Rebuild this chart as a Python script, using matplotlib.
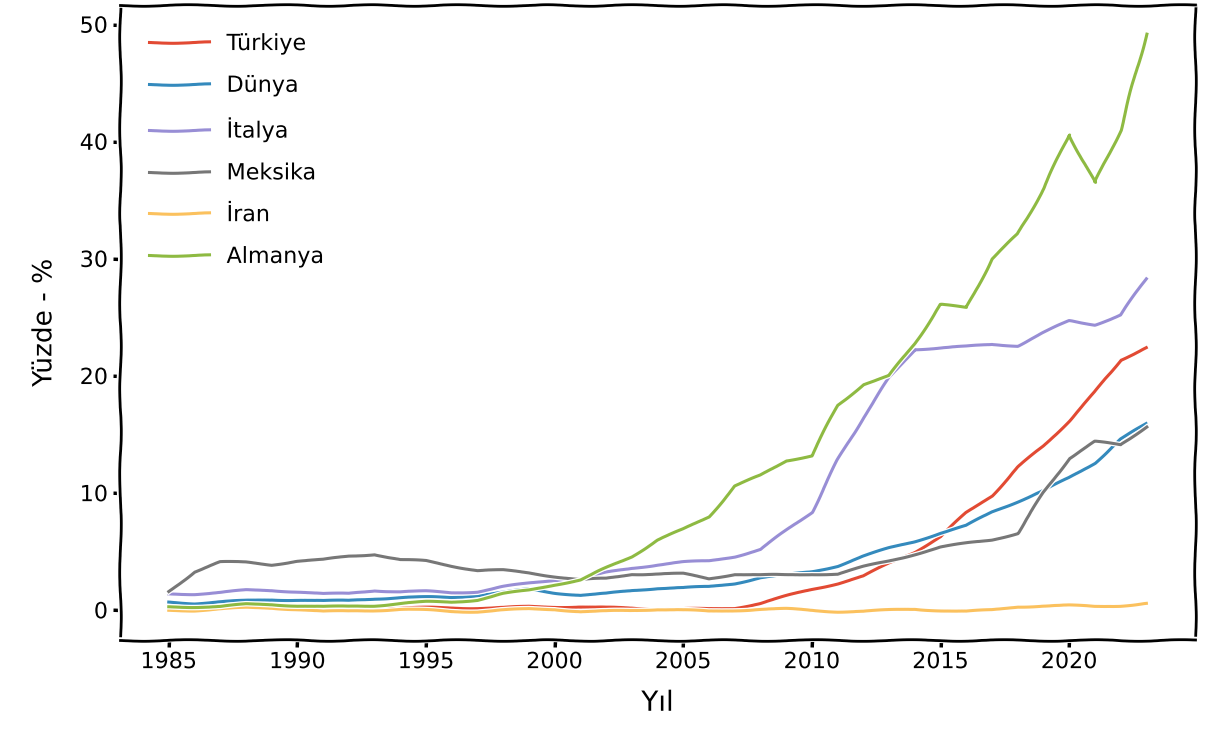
import matplotlib
matplotlib.use("Agg")
import matplotlib.pyplot as plt

years = list(range(1985, 2024))

turkiye = [0.1, 0.1, 0.2, 0.2, 0.3, 0.3, 0.3, 0.2, 0.2, 0.2, 0.2, 0.2, 0.2, 0.2, 0.3,
           0.3, 0.3, 0.2, 0.2, 0.1, 0.1, 0.1, 0.2, 0.6, 1.2, 1.8, 2.3, 2.9, 4.0, 5.0,
           6.3, 8.3, 9.8, 12.2, 14.0, 16.2, 18.6, 21.4, 22.4]
dunya = [0.7, 0.6, 0.7, 0.8, 0.9, 0.9, 0.8, 0.8, 1.0, 1.1, 1.1, 1.1, 1.3, 1.5, 1.8,
         1.5, 1.3, 1.4, 1.7, 1.9, 1.9, 2.0, 2.3, 2.8, 3.0, 3.3, 3.8, 4.6, 5.3, 5.9,
         6.6, 7.2, 8.4, 9.3, 10.2, 11.3, 12.6, 14.6, 15.9]
italya = [1.4, 1.4, 1.5, 1.7, 1.7, 1.6, 1.4, 1.4, 1.7, 1.6, 1.6, 1.5, 1.6, 2.0, 2.3,
          2.6, 2.7, 3.2, 3.6, 3.9, 4.1, 4.2, 4.6, 5.2, 6.8, 8.4, 12.8, 16.5, 19.8, 22.3,
          22.4, 22.5, 22.7, 22.6, 23.7, 24.7, 24.4, 25.2, 28.3]
meksika = [1.6, 3.3, 4.1, 4.1, 3.9, 4.2, 4.3, 4.6, 4.8, 4.3, 4.2, 3.8, 3.4, 3.4, 3.2,
           2.9, 2.6, 2.7, 3.1, 3.1, 3.1, 2.7, 3.1, 3.0, 3.0, 3.1, 3.1, 3.7, 4.2, 4.8,
           5.4, 5.7, 6.0, 6.6, 10.0, 13.0, 14.4, 14.1, 15.7]
iran = [0.0, 0.0, 0.1, 0.2, 0.2, 0.1, -0.1, -0.1, 0.0, 0.1, 0.0, -0.1, -0.1, 0.0, 0.1,
        0.1, -0.1, -0.1, 0.0, 0.1, 0.0, -0.1, 0.0, 0.1, 0.1, 0.0, -0.1, -0.1, 0.0, 0.1,
        0.0, -0.1, 0.0, 0.3, 0.4, 0.4, 0.3, 0.4, 0.6]
almanya = [0.3, 0.3, 0.3, 0.5, 0.5, 0.4, 0.3, 0.3, 0.4, 0.6, 0.7, 0.7, 0.9, 1.4, 1.7,
           2.2, 2.6, 3.6, 4.6, 6.0, 6.9, 8.0, 10.6, 11.5, 12.8, 13.2, 17.5, 19.3, 20.0, 22.8,
           26.1, 25.8, 30.0, 32.1, 36.0, 40.6, 36.5, 41.0, 49.2]

series = [
    ("Türkiye", turkiye, "#E24A33"),
    ("Dünya", dunya, "#348ABD"),
    ("İtalya", italya, "#988ED5"),
    ("Meksika", meksika, "#777777"),
    ("İran", iran, "#FBC15E"),
    ("Almanya", almanya, "#8EBA42"),
]

# xkcd look, but with an installed font
with plt.xkcd(scale=0.8):
    plt.rcParams["font.family"] = ["DejaVu Sans"]
    figure = plt.figure(figsize=(12.11, 7.36), dpi=100)
    axis = figure.add_axes([0.099, 0.130, 0.888, 0.863])
    for name, values, color in series:
        axis.plot(years, values, label=name, color=color, linewidth=2.2)
    for spine in axis.spines.values():
        spine.set_linewidth(2.0)
    axis.set_xticks([1985, 1990, 1995, 2000, 2005, 2010, 2015, 2020])
    axis.set_yticks([0, 10, 20, 30, 40, 50])
    axis.tick_params(labelsize=16, width=2.5, length=5)
    axis.set_xlabel("Yıl", fontsize=20, labelpad=12)
    axis.set_ylabel("Yüzde - %", fontsize=19, labelpad=16)
    axis.legend(loc="upper left", frameon=False, fontsize=16, handlelength=2.7,
                labelspacing=0.98, borderaxespad=0.9)
    figure.savefig("out.png", dpi=100)
